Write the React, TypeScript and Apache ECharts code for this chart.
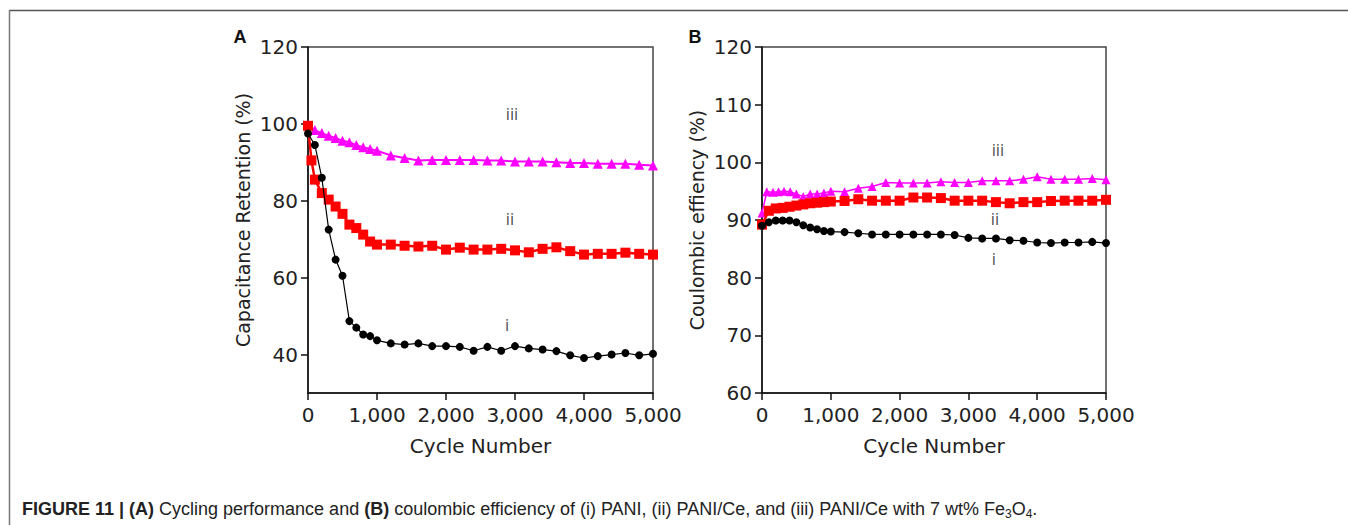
import React, { useEffect, useRef } from "react";
import * as echarts from "echarts";

// Panel A – capacitance retention (%) versus cycle number
const retentionCyclesI = [0, 100, 200, 300, 400, 500, 600, 700, 800, 900, 1000, 1200, 1400, 1600, 1800, 2000, 2200, 2400, 2600, 2800, 3000, 3200, 3400, 3600, 3800, 4000, 4200, 4400, 4600, 4800, 5000];
const retentionPANI = [97.5, 94.5, 86, 72.5, 64.7, 60.5, 48.7, 47, 45.2, 44.8, 43.7, 42.9, 42.6, 42.9, 42.2, 42.2, 42.0, 41.0, 42.0, 41.0, 42.2, 41.6, 41.3, 40.9, 39.8, 39.1, 39.6, 40.0, 40.4, 39.8, 40.2];

const retentionCyclesII = [0, 50, 100, 200, 300, 400, 500, 600, 700, 800, 900, 1000, 1200, 1400, 1600, 1800, 2000, 2200, 2400, 2600, 2800, 3000, 3200, 3400, 3600, 3800, 4000, 4200, 4400, 4600, 4800, 5000];
const retentionPANICe = [99.5, 90.5, 85.5, 82, 80.3, 78.5, 76.6, 73.8, 72.9, 71.2, 69.4, 68.6, 68.6, 68.3, 68.1, 68.3, 67.3, 67.8, 67.3, 67.3, 67.5, 67.1, 66.6, 67.5, 67.9, 66.9, 66.0, 66.2, 66.2, 66.5, 66.2, 66.0];

const retentionCyclesIII = [0, 100, 200, 300, 400, 500, 600, 700, 800, 900, 1000, 1200, 1400, 1600, 1800, 2000, 2200, 2400, 2600, 2800, 3000, 3200, 3400, 3600, 3800, 4000, 4200, 4400, 4600, 4800, 5000];
const retentionPANICeFe = [99.7, 98.4, 97.6, 96.9, 96.3, 95.6, 95.2, 94.5, 93.9, 93.5, 93.0, 91.8, 91.1, 90.5, 90.6, 90.6, 90.6, 90.6, 90.5, 90.5, 90.2, 90.2, 90.2, 90.0, 89.8, 89.8, 89.6, 89.6, 89.6, 89.4, 89.2];

// Panel B – coulombic efficiency (%) versus cycle number
const efficiencyCyclesI = [0, 100, 200, 300, 400, 500, 600, 700, 800, 900, 1000, 1200, 1400, 1600, 1800, 2000, 2200, 2400, 2600, 2800, 3000, 3200, 3400, 3600, 3800, 4000, 4200, 4400, 4600, 4800, 5000];
const efficiencyPANI = [89.0, 89.6, 89.9, 89.9, 89.9, 89.6, 89.1, 88.7, 88.4, 88.1, 88.0, 87.9, 87.7, 87.5, 87.5, 87.5, 87.5, 87.5, 87.5, 87.4, 86.9, 86.8, 86.8, 86.5, 86.4, 86.1, 86.0, 86.1, 86.1, 86.2, 86.0];

const efficiencyCyclesII = [0, 100, 200, 300, 400, 500, 600, 700, 800, 900, 1000, 1200, 1400, 1600, 1800, 2000, 2200, 2400, 2600, 2800, 3000, 3200, 3400, 3600, 3800, 4000, 4200, 4400, 4600, 4800, 5000];
const efficiencyPANICe = [89.2, 91.6, 92.0, 92.1, 92.3, 92.5, 92.7, 92.9, 93.0, 93.1, 93.2, 93.3, 93.6, 93.35, 93.35, 93.35, 93.9, 93.9, 93.8, 93.35, 93.35, 93.35, 93.1, 92.9, 93.1, 93.1, 93.3, 93.35, 93.35, 93.35, 93.5];

const efficiencyCyclesIII = [0, 70, 160, 240, 320, 410, 500, 600, 700, 800, 900, 1000, 1200, 1400, 1600, 1800, 2000, 2200, 2400, 2600, 2800, 3000, 3200, 3400, 3600, 3800, 4000, 4200, 4400, 4600, 4800, 5000];
const efficiencyPANICeFe = [91.2, 94.9, 94.8, 94.9, 95.0, 94.9, 94.5, 94.05, 94.5, 94.5, 94.7, 95.0, 94.9, 95.5, 95.8, 96.5, 96.4, 96.4, 96.4, 96.65, 96.5, 96.5, 96.8, 96.8, 96.8, 97.05, 97.5, 97.05, 97.05, 97.05, 97.2, 97.0];

// Curve tags (i, ii, iii) placed in data coordinates
const tagTexts = ["iii", "ii", "i"];
const tagCyclesA = [2956, 2927, 2884];
const tagValuesA = [102.3, 75.1, 47.3];
const tagCyclesB = [3429, 3385, 3371];
const tagValuesB = [102.0, 90.0, 83.1];

// Axis tick values
const cycleTicks = [0, 1000, 2000, 3000, 4000, 5000];
const retentionTicks = [40, 60, 80, 100, 120];

const FONT = "DejaVu Sans";
const TEXT = "#222";
const TICK_SIZE = 20;

const pairs = (xs: number[], ys: number[]) => xs.map((x, i) => [x, ys[i]]);
const fmtCycle = (v: number) => (v === 0 ? "0" : v.toLocaleString("en-US"));

function xAxis(gridIndex: number) {
  return {
    type: "value",
    gridIndex,
    min: 0,
    max: 5000,
    interval: 1000,
    name: "Cycle Number",
    nameLocation: "middle",
    nameGap: 43,
    nameTextStyle: { fontFamily: FONT, fontSize: 20, color: TEXT },
    axisLine: { show: true, lineStyle: { color: "#111", width: 1.5 } },
    axisTick: { show: true, inside: false, length: 7, lineStyle: { color: "#111", width: 1.5 }, customValues: cycleTicks },
    axisLabel: { fontFamily: FONT, fontSize: TICK_SIZE, color: TEXT, margin: 12, formatter: fmtCycle, customValues: cycleTicks },
    splitLine: { show: false },
  };
}

const series: any[] = [];
function addSeries(xi: number, xs: number[], ys: number[], color: string, symbol: string, size: number, width: number, z: number) {
  series.push({
    type: "line",
    xAxisIndex: xi,
    yAxisIndex: xi,
    data: pairs(xs, ys),
    symbol,
    symbolSize: size,
    showSymbol: true,
    lineStyle: { color, width },
    itemStyle: { color, borderWidth: 0 },
    z,
    silent: true,
  });
}

addSeries(0, retentionCyclesIII, retentionPANICeFe, "#ff00ff", "triangle", 10, 2, 2);
addSeries(0, retentionCyclesII, retentionPANICe, "#ff0000", "rect", 10, 2.5, 3);
addSeries(0, retentionCyclesI, retentionPANI, "#000000", "circle", 8, 1.2, 4);
addSeries(1, efficiencyCyclesIII, efficiencyPANICeFe, "#ff00ff", "triangle", 9, 1.5, 2);
addSeries(1, efficiencyCyclesII, efficiencyPANICe, "#ff0000", "rect", 10, 2.5, 3);
addSeries(1, efficiencyCyclesI, efficiencyPANI, "#000000", "circle", 8, 1.2, 4);

function addTags(xi: number, xs: number[], ys: number[]) {
  series.push({
    type: "scatter",
    xAxisIndex: xi,
    yAxisIndex: xi,
    data: xs.map((x, i) => [x, ys[i], tagTexts[i]]),
    symbolSize: 0,
    itemStyle: { color: "#222" },
    silent: true,
    z: 6,
    label: {
      show: true,
      position: "inside",
      color: "#222",
      formatter: (p: any) => `{t|${p.value[2]}}`,
      rich: {
        t: { fontFamily: FONT, fontSize: 15, color: "#222" },
      },
    },
  });
}
addTags(0, tagCyclesA, tagValuesA);
addTags(1, tagCyclesB, tagValuesB);

export default function App() {
  const ref = useRef<HTMLDivElement>(null);
  useEffect(() => {
    if (!ref.current) return;
    const chart = echarts.init(ref.current, null, { renderer: "svg" });
    chart.setOption({
      animation: false,
      backgroundColor: "#ffffff",
      grid: [
        { left: 308, right: 695, top: 47, bottom: 132, show: true, borderColor: "#444", borderWidth: 1.5, backgroundColor: "transparent" },
        { left: 762, right: 242, top: 47, bottom: 132, show: true, borderColor: "#444", borderWidth: 1.5, backgroundColor: "transparent" },
      ],
      xAxis: [xAxis(0), xAxis(1)],
      yAxis: [
        {
          type: "value",
          gridIndex: 0,
          min: 30,
          max: 120,
          name: "Capacitance Retention (%)",
          nameLocation: "middle",
          nameGap: 56,
          nameTextStyle: { fontFamily: FONT, fontSize: 19, color: TEXT },
          axisLine: { show: true, lineStyle: { color: "#111", width: 1.5 } },
          axisTick: { show: true, inside: false, length: 7, lineStyle: { color: "#111", width: 1.5 }, customValues: retentionTicks },
          axisLabel: { fontFamily: FONT, fontSize: TICK_SIZE, color: TEXT, margin: 10, customValues: retentionTicks },
          splitLine: { show: false },
        },
        {
          type: "value",
          gridIndex: 1,
          min: 60,
          max: 120,
          interval: 10,
          name: "Coulombic effiency (%)",
          nameLocation: "middle",
          nameGap: 56,
          nameTextStyle: { fontFamily: FONT, fontSize: 19, color: TEXT },
          axisLine: { show: true, lineStyle: { color: "#111", width: 1.5 } },
          axisTick: { show: true, inside: false, length: 7, lineStyle: { color: "#111", width: 1.5 } },
          axisLabel: { fontFamily: FONT, fontSize: TICK_SIZE, color: TEXT, margin: 10 },
          splitLine: { show: false },
        },
      ],
      series,
      graphic: [
        { type: "line", shape: { x1: 9, y1: 10.5, x2: 1348, y2: 10.5 }, style: { stroke: "#555", lineWidth: 1.5 }, silent: true },
        { type: "line", shape: { x1: 9.5, y1: 10, x2: 9.5, y2: 525 }, style: { stroke: "#777", lineWidth: 1.5 }, silent: true },
        {
          type: "text",
          x: 240,
          y: 37,
          style: { text: "A", fontFamily: "Liberation Sans", fontWeight: "bold", fontSize: 18, fill: "#111", align: "center", verticalAlign: "middle" },
          silent: true,
        },
        {
          type: "text",
          x: 695,
          y: 37,
          style: { text: "B", fontFamily: "Liberation Sans", fontWeight: "bold", fontSize: 18, fill: "#111", align: "center", verticalAlign: "middle" },
          silent: true,
        },
        {
          type: "text",
          x: 22,
          y: 509,
          style: {
            text:
              "{b|FIGURE 11 | (A)}{n| Cycling performance and }{b|(B)}{n| coulombic efficiency of (i) PANI, (ii) PANI/Ce, and (iii) PANI/Ce with 7 wt% Fe}{s|3}{n|O}{s|4}{n|.}",
            align: "left",
            verticalAlign: "middle",
            rich: {
              b: { fontFamily: "Liberation Sans", fontWeight: "bold", fontSize: 18, fill: "#222", lineHeight: 22 },
              n: { fontFamily: "Liberation Sans", fontSize: 18, fill: "#222", lineHeight: 22 },
              s: { fontFamily: "Liberation Sans", fontSize: 12, fill: "#222", lineHeight: 13, verticalAlign: "bottom" },
            },
          },
          silent: true,
        },
      ],
    });
    return () => chart.dispose();
  }, []);
  return <div ref={ref} style={{ position: "absolute", left: 0, top: 0, width: 1348, height: 525 }} />;
}
